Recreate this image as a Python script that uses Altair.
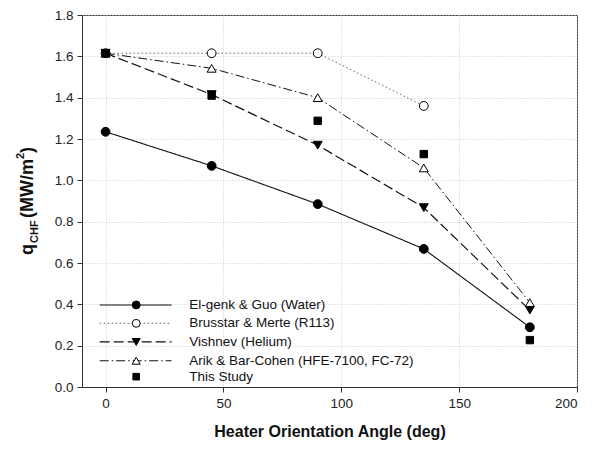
import altair as alt
import pandas as pd

# ---------------- data ----------------
ANGLES = [0, 45, 90, 135, 180]
EL_GENK = [1.235, 1.07, 0.885, 0.668, 0.289]
BRUSSTAR_ANGLES = [0, 45, 90, 135]
BRUSSTAR = [1.615, 1.615, 1.615, 1.36]
VISHNEV = [1.615, 1.415, 1.17, 0.868, 0.372]
ARIK = [1.615, 1.542, 1.40, 1.06, 0.408]
THIS_STUDY = [1.615, 1.41, 1.288, 1.127, 0.227]

NAMES = [
    "El-genk & Guo (Water)",
    "Brusstar & Merte (R113)",
    "Vishnev (Helium)",
    "Arik & Bar-Cohen (HFE-7100, FC-72)",
    "This Study",
]
X_TICKS = [0, 50, 100, 150, 200]
Y_TICKS = [0.0, 0.2, 0.4, 0.6, 0.8, 1.0, 1.2, 1.4, 1.6, 1.8]

rows = []
for a, v in zip(ANGLES, EL_GENK):
    rows.append({"angle": a, "q": v, "series": NAMES[0]})
for a, v in zip(BRUSSTAR_ANGLES, BRUSSTAR):
    rows.append({"angle": a, "q": v, "series": NAMES[1]})
for a, v in zip(ANGLES, VISHNEV):
    rows.append({"angle": a, "q": v, "series": NAMES[2]})
for a, v in zip(ANGLES, ARIK):
    rows.append({"angle": a, "q": v, "series": NAMES[3]})
for a, v in zip(ANGLES, THIS_STUDY):
    rows.append({"angle": a, "q": v, "series": NAMES[4]})
df = pd.DataFrame(rows)

# legend layout (in data units, inside the plot)
LEG_X0, LEG_X1, LEG_MX, LEG_TX = -2.5, 28.0, 13.0, 35.5
LEG_Y = [0.397, 0.308, 0.218, 0.127, 0.05]
leg = pd.DataFrame({"series": NAMES, "y": LEG_Y,
                    "x0": LEG_X0, "x1": LEG_X1, "mx": LEG_MX, "tx": LEG_TX})

# styles
STYLE = {
    NAMES[0]: dict(dash=[1, 0], color="#111", sw=1.1, shape="circle", filled=True, size=78),
    NAMES[1]: dict(dash=[1.5, 2.5], color="#666", sw=1.0, shape="circle", filled=False, size=78),
    NAMES[2]: dict(dash=[10, 4], color="#111", sw=1.2, shape="triangle-down", filled=True, size=80),
    NAMES[3]: dict(dash=[9, 3, 1.5, 3], color="#111", sw=1.0, shape="triangle-up", filled=False, size=80),
    NAMES[4]: dict(dash=None, color="#111", sw=1.0, shape="square", filled=True, size=55),
}

FONT = "Liberation Sans"

X = alt.X("angle:Q",
          scale=alt.Scale(domain=[-10, 200], nice=False, zero=False),
          axis=alt.Axis(values=X_TICKS, title="Heater Orientation Angle (deg)",
                        titleFontSize=16, titleFontWeight="bold", titlePadding=14,
                        labelPadding=4))
Y = alt.Y("q:Q",
          scale=alt.Scale(domain=[0, 1.8], nice=False, zero=False),
          axis=alt.Axis(values=Y_TICKS, format=".1f", title=None, labelPadding=4))

layers = []
# data lines + markers
for name in NAMES:
    st = STYLE[name]
    base = alt.Chart(df).transform_filter(alt.datum.series == name)
    if st["dash"] is not None:
        layers.append(base.mark_line(color=st["color"], strokeWidth=st["sw"],
                                     strokeDash=st["dash"]).encode(x=X, y=Y))
    layers.append(base.mark_point(shape=st["shape"], size=st["size"], opacity=1,
                                  fill="#000" if st["filled"] else "#fff",
                                  stroke="#000", strokeWidth=1).encode(x=X, y=Y))

# legend
for name in NAMES:
    st = STYLE[name]
    lb = alt.Chart(leg).transform_filter(alt.datum.series == name)
    if st["dash"] is not None:
        layers.append(lb.mark_rule(color=st["color"], strokeWidth=st["sw"],
                                   strokeDash=st["dash"]).encode(x="x0:Q", x2="x1:Q", y="y:Q"))
    layers.append(lb.mark_point(shape=st["shape"], size=st["size"] * 0.8, opacity=1,
                                fill="#000" if st["filled"] else "#fff",
                                stroke="#000", strokeWidth=1).encode(x="mx:Q", y="y:Q"))
    layers.append(lb.mark_text(align="left", baseline="middle", font=FONT,
                               fontSize=13.5, color="#111").encode(x="tx:Q", y="y:Q", text="series:N"))

# y-axis title with sub/superscript, built from text pieces
TITLE_PARTS = pd.DataFrame({
    "t": ["q", "CHF", "(MW/m", "2", ")"],
    "px": [-49, -44, -49, -58, -49],
    "py": [240, 228, 203, 144, 138],
    "fs": [18, 11, 18, 11, 18],
})
for _, r in TITLE_PARTS.iterrows():
    layers.append(
        alt.Chart(pd.DataFrame({"t": [r["t"]]})).mark_text(
            angle=270, align="left", baseline="alphabetic", font=FONT,
            fontWeight="bold", fontSize=float(r["fs"]), color="#111"
        ).encode(x=alt.value(float(r["px"])), y=alt.value(float(r["py"])), text="t:N")
    )

chart = alt.layer(*layers).properties(
    width=495, height=372,
    padding={"left": 74, "top": 7, "right": 12, "bottom": 57},
    autosize="none",
).configure_view(stroke="#333", strokeWidth=1).configure_axis(
    domainColor="#333", tickColor="#333", tickSize=5, grid=True,
    gridColor="#c8c8c8", gridDash=[1, 2], gridWidth=1,
    labelFont=FONT, labelFontSize=13.5, labelColor="#222",
    titleFont=FONT, titleColor="#111",
)

chart.save("out.html", embed_options={"renderer": "svg", "actions": False})
